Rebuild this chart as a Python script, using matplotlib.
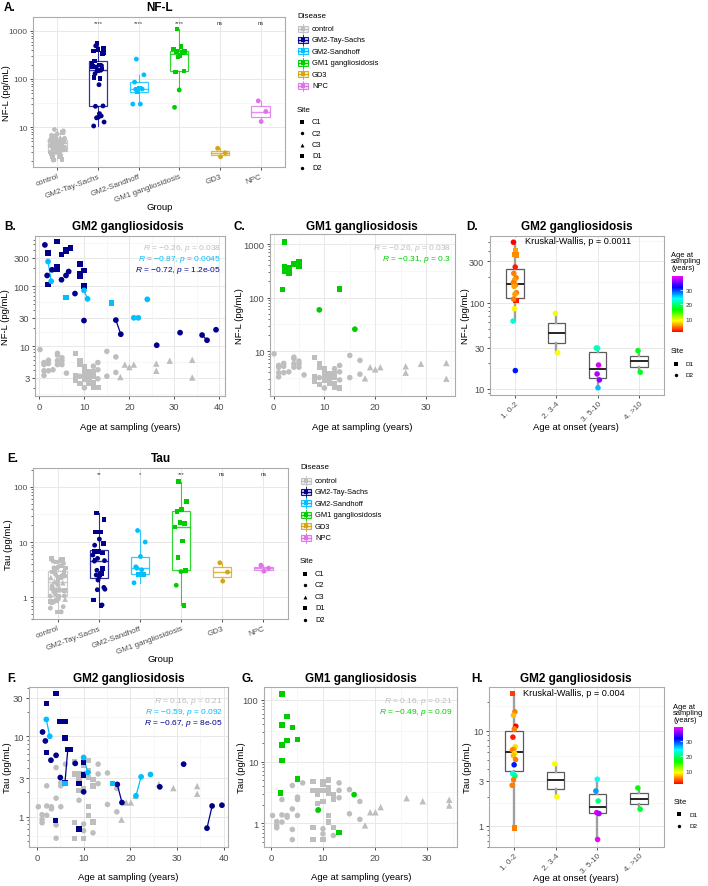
import numpy as np
import matplotlib
matplotlib.use('Agg')
import matplotlib.pyplot as plt
import matplotlib.ticker as mticker
import matplotlib.transforms as mtrans
from matplotlib.colors import LinearSegmentedColormap, Normalize, hsv_to_rgb
from matplotlib.patches import Rectangle
from matplotlib.cm import ScalarMappable

plt.rcParams['font.family'] = ['Liberation Sans', 'DejaVu Sans']
plt.rcParams['mathtext.fontset'] = 'custom'
plt.rcParams['mathtext.rm'] = 'Liberation Sans'
plt.rcParams['mathtext.it'] = 'Liberation Sans:italic'

# ======================= DATA =======================
groups = ['control', 'GM2-Tay-Sachs', 'GM2-Sandhoff', 'GM1 gangliosidosis', 'GD3', 'NPC']
group_colors = ['#BEBEBE', '#00008B', '#00BFFF', '#00CD00', '#D4A514', '#E070EE']
site_codes = ['C1', 'C2', 'C3', 'D1', 'D2']
nfl_sig = ['', '****', '****', '****', 'ns', 'ns']
tau_sig = ['', '**', '*', '***', 'ns', 'ns']
onset_labels = ['1. 0-2', '2. 3-4', '3. 5-10', '4. >10']

# controls: NF-L vs age
ctrl_nfl_age = [0.1, 1, 1, 1, 1, 2, 2, 2, 3, 4, 4, 4, 4, 5, 5, 5, 6,
                8, 8, 8, 8, 9, 9, 9, 9, 10, 10, 10, 10, 10, 11, 11, 11, 11,
                12, 12, 12, 12, 12, 13, 13, 13, 13, 15, 15, 17, 17,
                18, 19, 20, 21, 26, 26, 29, 34, 34]
ctrl_nfl = [8.9, 5.4, 5.0, 3.95, 3.3, 5.9, 5.2, 3.95, 4.1, 7.7, 7.2, 5.8, 5.0, 6.5, 5.8, 5.0, 3.6,
            7.7, 3.3, 3.0, 2.7, 5.9, 5.0, 3.2, 2.4, 4.7, 3.9, 3.4, 2.85, 2.05, 3.8, 3.2, 2.75, 2.45,
            4.7, 3.8, 3.2, 2.5, 2.1, 5.4, 4.1, 2.9, 2.05, 8.3, 3.2, 6.7, 3.7,
            3.1, 5.0, 4.55, 5.0, 5.2, 3.95, 5.8, 6.0, 3.05]
ctrl_nfl_site = ['C2', 'C2', 'C2', 'C2', 'C2', 'C2', 'C2', 'C2', 'C2', 'C2', 'C2', 'C2', 'C2', 'C2', 'C2', 'C2', 'C2',
                 'C1', 'C1', 'C1', 'C1', 'C1', 'C1', 'C2', 'C1', 'C1', 'C1', 'C1', 'C1', 'C2', 'C1', 'C1', 'C1', 'C1',
                 'C2', 'C1', 'C1', 'C1', 'C1', 'C2', 'C2', 'C2', 'C1', 'C2', 'C2', 'C2', 'C2',
                 'C3', 'C3', 'C3', 'C3', 'C3', 'C3', 'C3', 'C3', 'C3']

# controls: Tau vs age
ctrl_tau_age = [0.3, 1.1, 1.1, 1.1, 2.1, 2.1, 2.1, 3.1, 3.1, 4.1, 4.1, 4.1, 4.1, 5.1, 5.1, 5.1, 6.1,
                8.1, 8.1, 8.1, 8.1, 9, 9, 9, 9, 10, 10, 10, 10, 10, 10, 10,
                11.1, 11.1, 11.1, 11.1, 11.1, 12, 12, 12, 12, 13.1, 13.1, 13.1, 15.1, 15.1, 17.1, 17.1,
                18.1, 19.1, 20.1, 21.1, 26.1, 29.2, 34.3, 34.3]
ctrl_tau = [1.33, 1.06, 0.92, 0.84, 2.42, 1.36, 1.04, 1.33, 1.25, 4.08, 1.7, 0.79, 0.54, 2.64, 2.42, 1.33, 4.5,
            4.8, 3.4, 0.84, 0.54, 3.4, 2.88, 2.1, 1.6, 4.8, 4.3, 3.4, 2.25, 0.81, 0.67, 0.54,
            5.0, 3.7, 3.05, 1.33, 1.04, 2.88, 2.4, 0.86, 0.63, 4.5, 3.4, 2.58, 3.5, 1.42, 2.25, 1.15,
            0.92, 1.5, 1.5, 1.82, 2.54, 2.27, 2.4, 1.93]
ctrl_tau_site = ['C2', 'C2', 'C2', 'C2', 'C2', 'C2', 'C2', 'C2', 'C2', 'C2', 'C2', 'C2', 'C2', 'C2', 'C2', 'C2', 'C2',
                 'C1', 'C1', 'C1', 'C1', 'C1', 'C1', 'C1', 'C2', 'C1', 'C1', 'C1', 'C1', 'C2', 'C2', 'C1',
                 'C1', 'C1', 'C1', 'C1', 'C1', 'C1', 'C1', 'C1', 'C2', 'C2', 'C2', 'C2', 'C2', 'C2', 'C2', 'C2',
                 'C3', 'C3', 'C3', 'C3', 'C3', 'C3', 'C3', 'C3']

# GM2 Tay-Sachs, NF-L
ts_nfl_age = [1.2, 1.9, 1.7, 1.9, 2.8, 3.9, 3.9, 3.9, 4.9, 4.9, 5.9, 5.9, 5.9, 6.5, 6.9, 7.9,
              9.0, 9.0, 9.0, 9.9, 9.9, 9.9, 17.0, 18.1, 26.1, 31.3, 36.2, 37.3, 39.3]
ts_nfl = [490, 357, 152, 107, 189, 555, 215, 196, 129, 339, 406, 380, 152, 177, 437, 76,
          237, 162, 147, 184, 101, 27, 27.5, 16, 10.5, 17, 15.5, 12.7, 19]
ts_nfl_site = ['D2', 'D1', 'D2', 'D1', 'D2', 'D1', 'D1', 'D1', 'D2', 'D1', 'D1', 'D1', 'D2', 'D2', 'D1', 'D2',
               'D1', 'D1', 'D1', 'D1', 'D1', 'D2', 'D2', 'D2', 'D2', 'D2', 'D2', 'D2', 'D2']
ts_nfl_pid = [0, 0, 0, 0, 0, 0, 0, 0, 0, 0, 0, 0, 0, 0, 0, 0,
              0, 0, 0, 0, 0, 0, 1, 1, 0, 0, 2, 2, 0]

# GM2 Sandhoff, NF-L
sh_nfl_age = [1.9, 2.6, 5.9, 9.9, 10.7, 16.0, 21.0, 22.0, 24.0]
sh_nfl = [259, 122, 65, 86, 62, 53, 30, 30, 61]
sh_nfl_site = ['D2', 'D2', 'D1', 'D2', 'D2', 'D1', 'D2', 'D2', 'D2']
sh_nfl_pid = [3, 3, 0, 4, 4, 0, 5, 5, 0]

# GM2 Tay-Sachs, Tau
ts_tau_age = [4.1, 2.0, 1.2, 1.8, 2.0, 3.0, 4.1, 4.9, 6.0, 6.0, 6.6, 7.1, 6.0, 5.0, 8.2, 9.0,
              10.0, 10.0, 10.0, 4.0, 9.0, 17.2, 18.2, 26.3, 31.4, 36.4, 37.5, 39.6]
ts_tau = [33.8, 25.4, 11.3, 8.75, 6.28, 5.04, 5.8, 15.3, 15.3, 9.5, 6.8, 6.8, 2.66, 3.07, 4.6, 2.59,
          4.7, 3.28, 2.04, 0.89, 0.70, 2.52, 1.5, 2.35, 4.5, 0.72, 1.36, 1.39]
ts_tau_site = ['D1', 'D1', 'D2', 'D2', 'D1', 'D2', 'D2', 'D1', 'D1', 'D1', 'D1', 'D1', 'D1', 'D2', 'D2', 'D1',
               'D1', 'D1', 'D2', 'D1', 'D1', 'D2', 'D2', 'D2', 'D2', 'D2', 'D2', 'D2']
ts_tau_pid = [0, 0, 0, 0, 0, 0, 0, 0, 0, 0, 6, 0, 6, 0, 0, 0,
              0, 0, 0, 0, 0, 1, 1, 0, 0, 2, 2, 0]

# GM2 Sandhoff, Tau
sh_tau_age = [2.0, 2.75, 10.0, 10.9, 6.0, 16.2, 21.2, 22.3, 24.3]
sh_tau = [16.2, 10.0, 5.45, 3.55, 2.59, 2.59, 1.82, 3.13, 3.35]
sh_tau_site = ['D2', 'D2', 'D2', 'D2', 'D1', 'D1', 'D2', 'D2', 'D2']
sh_tau_pid = [3, 3, 4, 4, 0, 0, 5, 5, 0]

# GM1 gangliosidosis
gm1_nfl_age = [2.1, 2.1, 2.1, 1.8, 3.0, 3.0, 4.0, 5.0, 5.0, 13.0, 9.0, 16.0]
gm1_nfl = [1100, 378, 305, 141, 357, 288, 424, 475, 378, 145, 59, 25.7]
gm1_nfl_site = ['D1', 'D1', 'D1', 'D1', 'D1', 'D1', 'D1', 'D1', 'D1', 'D1', 'D2', 'D2']
gm1_tau_age = [2.1, 3.1, 2.1, 4.1, 3.1, 5.1, 2.1, 2.1, 5.1, 1.8, 16.0, 9.1, 13.1]
gm1_tau = [125, 54, 39, 36, 21.9, 22.6, 18.6, 10.4, 5.2, 3.06, 2.9, 1.64, 0.71]
gm1_tau_site = ['D1', 'D1', 'D1', 'D1', 'D1', 'D1', 'D1', 'D1', 'D1', 'D1', 'D2', 'D2', 'D1']

# GD3 and NPC
gd3_nfl = [3.6, 2.9, 2.4]
gd3_tau = [4.2, 2.85, 1.95]
gd3_site = ['D2', 'D2', 'D2']
npc_nfl = [35, 21, 13]
npc_tau = [3.8, 3.35, 2.95]
npc_site = ['D2', 'D2', 'D2']

# GM2 by age at onset (panel D: NF-L)
d_group = [1, 1, 1, 1, 1, 1, 1, 1, 1, 1, 1, 1, 1, 1, 1, 1, 1, 1, 2, 2, 3, 3, 3, 3, 3, 3, 4, 4]
d_nfl = [500, 402, 361, 355, 258, 218, 194, 183, 170, 160, 154, 130, 125, 110, 106, 85, 61, 16.3,
         75, 26.2, 29.7, 29.7, 18.9, 14.9, 12.7, 10.3, 27.7, 15.6]
d_age = [1.2, 6, 5.5, 5.5, 2, 5, 5, 6, 5, 5, 6, 5, 6, 5, 2, 8.5, 23, 31,
         9, 9, 23, 22, 38, 37, 36, 26, 17, 17.5]
d_site = ['D2', 'D1', 'D1', 'D1', 'D2', 'D2', 'D2', 'D2', 'D2', 'D2', 'D2', 'D2', 'D2', 'D2', 'D1', 'D2', 'D2', 'D2',
          'D2', 'D2', 'D2', 'D2', 'D2', 'D2', 'D2', 'D2', 'D2', 'D2']

# GM2 by age at onset (panel H: Tau)
h_group = [1, 1, 1, 1, 1, 1, 1, 1, 1, 1, 1, 1, 1, 1, 1, 1, 1, 1, 2, 2, 3, 3, 3, 3, 3, 3, 4, 4]
h_tau = [24.7, 15.9, 14.6, 11.2, 10.5, 8.6, 6.8, 6.4, 6.3, 5.8, 5.5, 5.0, 4.4, 3.55, 3.36, 3.07, 2.68, 0.95,
         4.5, 2.02, 3.1, 2.33, 1.83, 1.38, 1.35, 0.72, 2.51, 1.5]
h_age = [3, 5, 7, 1.2, 5, 2, 8, 6, 5, 8, 7, 5, 31, 23, 20, 5, 5, 5,
         9, 9, 24, 27, 20, 38, 37, 39, 17, 18]
h_site = ['D1', 'D2', 'D2', 'D2', 'D2', 'D2', 'D2', 'D2', 'D2', 'D2', 'D2', 'D2', 'D2', 'D2', 'D2', 'D2', 'D2', 'D1',
          'D2', 'D2', 'D2', 'D2', 'D2', 'D2', 'D2', 'D2', 'D2', 'D2']

# correlation / test annotations
b_text = [(r'$\mathit{R}$ = −0.26, $\mathit{p}$ = 0.038', '#BEBEBE'),
          (r'$\mathit{R}$ = −0.87, $\mathit{p}$ = 0.0045', '#00BFFF'),
          (r'$\mathit{R}$ = −0.72, $\mathit{p}$ = 1.2e-05', '#00008B')]
c_text = [(r'$\mathit{R}$ = −0.26, $\mathit{p}$ = 0.038', '#BEBEBE'),
          (r'$\mathit{R}$ = −0.31, $\mathit{p}$ = 0.3', '#00CD00')]
f_text = [(r'$\mathit{R}$ = 0.16, $\mathit{p}$ = 0.21', '#BEBEBE'),
          (r'$\mathit{R}$ = −0.59, $\mathit{p}$ = 0.092', '#00BFFF'),
          (r'$\mathit{R}$ = −0.67, $\mathit{p}$ = 8e-05', '#00008B')]
g_text = [(r'$\mathit{R}$ = 0.16, $\mathit{p}$ = 0.21', '#BEBEBE'),
          (r'$\mathit{R}$ = −0.49, $\mathit{p}$ = 0.09', '#00CD00')]
d_kw = 'Kruskal-Wallis, p = 0.0011'
h_kw = 'Kruskal-Wallis, p = 0.004'

# ======================= FIGURE =======================
W, H = 708, 887
fig = plt.figure(figsize=(W / 100, H / 100), dpi=100)
fig.patch.set_facecolor('white')

MK = {'C1': 's', 'C2': 'o', 'C3': '^', 'D1': 's', 'D2': 'o'}
GRID_MAJ = '#E8E8E8'
GRID_MIN = '#F4F4F4'
TICKC = '#4D4D4D'

hues = np.linspace(0, 5 / 6, 256)
age_cmap = LinearSegmentedColormap.from_list(
    'rb', hsv_to_rgb(np.stack([hues, np.ones(256), np.ones(256)], axis=1)))
age_norm = Normalize(1.2, 39.3)


def add_ax(x0, y0, x1, y1):
    return fig.add_axes([x0 / W, 1 - y1 / H, (x1 - x0) / W, (y1 - y0) / H])


def jit(n, w, phase=0.31):
    return ((np.arange(n) * 0.6180339887 + phase) % 1.0 - 0.5) * 2 * w


def base_style(ax, tsize):
    ax.set_facecolor('white')
    for sp in ax.spines.values():
        sp.set_color('#ABABAB')
        sp.set_linewidth(0.8)
        sp.set_zorder(6)
    ax.tick_params(which='major', length=2.5, width=0.6, color='#333333',
                   labelsize=tsize, labelcolor=TICKC, pad=1.5)
    ax.tick_params(axis='y', which='minor', length=1.6, width=0.5, color='#333333')
    ax.tick_params(axis='x', which='minor', bottom=False)


def log_y(ax, ticks, lim):
    ax.set_yscale('log')
    ax.set_ylim(*lim)
    ax.set_yticks(ticks)
    ax.set_yticklabels(['%g' % t for t in ticks])
    ax.yaxis.set_minor_locator(mticker.LogLocator(base=10, subs=np.arange(2, 10), numticks=40))
    ax.yaxis.set_minor_formatter(mticker.NullFormatter())
    lt = np.log10(ticks)
    mids = np.concatenate([[lt[0] - (lt[1] - lt[0]) / 2], (lt[:-1] + lt[1:]) / 2,
                           [lt[-1] + (lt[-1] - lt[-2]) / 2]])
    for m in mids:
        ax.axhline(10 ** m, color=GRID_MIN, lw=0.5, zorder=0)
    for t in ticks:
        ax.axhline(t, color=GRID_MAJ, lw=0.7, zorder=0)


def lin_x(ax, ticks, lim):
    ax.set_xlim(*lim)
    ax.set_xticks(ticks)
    ax.set_xticklabels(['%g' % t for t in ticks])
    st = ticks[1] - ticks[0]
    for t in list(ticks) + [ticks[-1] + st]:
        ax.axvline(t - st / 2, color=GRID_MIN, lw=0.5, zorder=0)
    for t in ticks:
        ax.axvline(t, color=GRID_MAJ, lw=0.7, zorder=0)


def cat_x(ax, labels, rot, tsize):
    n = len(labels)
    ax.set_xlim(0.4, n + 0.6)
    ax.set_xticks(np.arange(1, n + 1))
    ax.set_xticklabels(labels, rotation=rot, ha='right', rotation_mode='anchor', fontsize=tsize)
    for i in range(1, n + 1):
        ax.axvline(i, color=GRID_MAJ, lw=0.7, zorder=0)


def bstats(vals):
    lv = np.log10(np.asarray(vals, float))
    q1, med, q3 = np.percentile(lv, [25, 50, 75])
    iqr = q3 - q1
    lo = lv[lv >= q1 - 1.5 * iqr].min()
    hi = lv[lv <= q3 + 1.5 * iqr].max()
    return {'med': 10 ** med, 'q1': 10 ** q1, 'q3': 10 ** q3,
            'whislo': 10 ** lo, 'whishi': 10 ** hi, 'fliers': []}


def draw_box(ax, vals, pos, width, edge, med, whisk, lw=0.9, mlw=1.1, wlw=0.9, alpha=1.0):
    ax.bxp([bstats(vals)], positions=[pos], widths=width, showfliers=False, showcaps=False,
           patch_artist=True, manage_ticks=False, zorder=2,
           boxprops=dict(facecolor='white', edgecolor=edge, linewidth=lw, alpha=alpha),
           medianprops=dict(color=med, linewidth=mlw, alpha=alpha, solid_capstyle='butt'),
           whiskerprops=dict(color=whisk, linewidth=wlw, alpha=alpha))


def pts(ax, x, y, site, color, s, z=3):
    x = np.asarray(x, float)
    y = np.asarray(y, float)
    site = np.asarray(site)
    if isinstance(color, str):
        cols = np.array([matplotlib.colors.to_rgba(color)] * len(x))
    else:
        cols = np.asarray(color)
    for code, m in MK.items():
        sel = site == code
        if not sel.any():
            continue
        sz = s * (1.35 if m == '^' else (0.9 if m == 's' else 1.0))
        ax.scatter(x[sel], y[sel], marker=m, s=sz, c=cols[sel], linewidths=0, zorder=z)


def pair_lines(ax, age, val, pid, color):
    age = np.asarray(age, float)
    val = np.asarray(val, float)
    pid = np.asarray(pid)
    for p in np.unique(pid[pid > 0]):
        sel = pid == p
        o = np.argsort(age[sel])
        ax.plot(age[sel][o], val[sel][o], color=color, lw=0.9, zorder=2.5)


def group_panel(ax, vals_list, site_list, sig, yticks, ylim):
    base_style(ax, 6.0)
    log_y(ax, yticks, ylim)
    cat_x(ax, groups, 20, 5.8)
    tr = mtrans.blended_transform_factory(ax.transData, ax.transAxes)
    for i, (v, s) in enumerate(zip(vals_list, site_list)):
        c = group_colors[i]
        draw_box(ax, v, i + 1, 0.45, c, c, c, lw=0.9, mlw=1.0, wlw=0.8, alpha=0.8)
        pts(ax, i + 1 + jit(len(v), 0.19 if i == 0 else 0.15), v, s, c, 12)
        if sig[i]:
            ax.text(i + 1, 0.965, sig[i], transform=tr, ha='center', va='center',
                    fontsize=4.2, color='#333333')


def onset_panel(ax, grp, vals, ages, sites, yticks, ylim):
    base_style(ax, 6.6)
    log_y(ax, yticks, ylim)
    cat_x(ax, onset_labels, 45, 5.8)
    ax.tick_params(axis='x', pad=1.0)
    grp = np.asarray(grp)
    vals = np.asarray(vals, float)
    for g in range(1, 5):
        draw_box(ax, vals[grp == g], g, 0.42, '#5A5A5A', '#262626', '#A0A0A0',
                 lw=0.9, mlw=1.4, wlw=1.7)
    xs = grp + jit(len(vals), 0.045, 0.12)
    pts(ax, xs, vals, sites, age_cmap(age_norm(np.asarray(ages, float))), 16)


# ---------- Panel A ----------
axA = add_ax(33, 18, 285, 168)
group_panel(axA, [ctrl_nfl, ts_nfl, sh_nfl, gm1_nfl, gd3_nfl, npc_nfl],
            [ctrl_nfl_site, ts_nfl_site, sh_nfl_site, gm1_nfl_site, gd3_site, npc_site],
            nfl_sig, [10, 100, 1000], (1.47, 1950))

# ---------- Panel B ----------
axB = add_ax(35, 237, 225, 397)
base_style(axB, 6.8)
log_y(axB, [3, 10, 30, 100, 300], (1.5, 690))
lin_x(axB, [0, 10, 20, 30, 40], (-1.0, 41.3))
pts(axB, ctrl_nfl_age, ctrl_nfl, ctrl_nfl_site, '#BEBEBE', 16, z=2)
pair_lines(axB, ts_nfl_age, ts_nfl, ts_nfl_pid, '#00008B')
pair_lines(axB, sh_nfl_age, sh_nfl, sh_nfl_pid, '#00BFFF')
pts(axB, ts_nfl_age, ts_nfl, ts_nfl_site, '#00008B', 17)
pts(axB, sh_nfl_age, sh_nfl, sh_nfl_site, '#00BFFF', 17)

# ---------- Panel C ----------
axC = add_ax(270, 235, 455, 397)
base_style(axC, 6.8)
log_y(axC, [10, 100, 1000], (1.45, 1540))
lin_x(axC, [0, 10, 20, 30], (-0.7, 35.7))
pts(axC, ctrl_nfl_age, ctrl_nfl, ctrl_nfl_site, '#BEBEBE', 16, z=2)
pts(axC, gm1_nfl_age, gm1_nfl, gm1_nfl_site, '#00CD00', 17)

# ---------- Panel D ----------
axD = add_ax(490, 237, 664, 396)
onset_panel(axD, d_group, d_nfl, d_age, d_site, [10, 30, 100, 300], (8.5, 590))

# ---------- Panel E ----------
axE = add_ax(33, 469, 288, 620)
group_panel(axE, [ctrl_tau, ts_tau, sh_tau, gm1_tau, gd3_tau, npc_tau],
            [ctrl_tau_site, ts_tau_site, sh_tau_site, gm1_tau_site, gd3_site, npc_site],
            tau_sig, [1, 10, 100], (0.4, 221))

# ---------- Panel F ----------
axF = add_ax(29, 688, 228, 848)
base_style(axF, 6.8)
log_y(axF, [1, 3, 10, 30], (0.42, 41))
lin_x(axF, [0, 10, 20, 30, 40], (-1.7, 40.9))
pts(axF, ctrl_tau_age, ctrl_tau, ctrl_tau_site, '#BEBEBE', 16, z=2)
pair_lines(axF, ts_tau_age, ts_tau, ts_tau_pid, '#00008B')
pair_lines(axF, sh_tau_age, sh_tau, sh_tau_pid, '#00BFFF')
pts(axF, ts_tau_age, ts_tau, ts_tau_site, '#00008B', 17)
pts(axF, sh_tau_age, sh_tau, sh_tau_site, '#00BFFF', 17)

# ---------- Panel G ----------
axG = add_ax(264, 688, 457, 848)
base_style(axG, 6.8)
log_y(axG, [1, 10, 100], (0.41, 162))
lin_x(axG, [0, 10, 20, 30], (-1.35, 35.8))
pts(axG, ctrl_tau_age, ctrl_tau, ctrl_tau_site, '#BEBEBE', 16, z=2)
pts(axG, gm1_tau_age, gm1_tau, gm1_tau_site, '#00CD00', 17)

# ---------- Panel H ----------
axH = add_ax(489, 688, 664, 848)
onset_panel(axH, h_group, h_tau, h_age, h_site, [1, 3, 10], (0.6, 29))

# ---------- colorbars ----------
for (x0, y0, x1, y1) in [(672, 277, 683, 333), (674, 728, 683, 785)]:
    cax = add_ax(x0, y0, x1, y1)
    cb = fig.colorbar(ScalarMappable(norm=age_norm, cmap=age_cmap), cax=cax, ticks=[10, 20, 30])
    cb.outline.set_visible(False)
    cax.tick_params(labelsize=4.6, length=2, width=0.5, color='white', direction='in',
                    labelcolor='#333333', pad=2)

# ======================= OVERLAY (texts, legends) =======================
ov = fig.add_axes([0, 0, 1, 1], zorder=20)
ov.set_xlim(0, W)
ov.set_ylim(H, 0)
ov.axis('off')
ov.patch.set_visible(False)


def T(x, y, s, **kw):
    kw.setdefault('va', 'center')
    kw.setdefault('ha', 'center')
    ov.text(x, y, s, **kw)


# panel tags and titles
for tag, x, y in [('A.', 4, 8), ('B.', 4, 227), ('C.', 234, 227), ('D.', 466, 227),
                  ('E.', 7, 459), ('F.', 7, 679), ('G.', 241, 679), ('H.', 471, 679)]:
    T(x, y, tag, ha='left', fontsize=8.5, fontweight='bold')
for title, x, y in [('NF-L', 160, 8), ('GM2 gangliosidosis', 128, 227),
                    ('GM1 gangliosidosis', 362, 227), ('GM2 gangliosidosis', 577, 227),
                    ('Tau', 161, 459), ('GM2 gangliosidosis', 129, 679),
                    ('GM1 gangliosidosis', 361, 679), ('GM2 gangliosidosis', 576, 679)]:
    T(x, y, title, fontsize=8.5, fontweight='bold')

# axis titles
AX = 6.8
T(160, 208, 'Group', fontsize=AX)
T(161, 660, 'Group', fontsize=AX)
for x in (130, 362):
    T(x, 428, 'Age at sampling (years)', fontsize=AX)
T(576, 428, 'Age at onset (years)', fontsize=AX)
for x in (128, 361):
    T(x, 878, 'Age at sampling (years)', fontsize=AX)
T(576, 879, 'Age at onset (years)', fontsize=AX)
for x, y, s in [(7, 93, 'NF-L (pg/mL)'), (6, 317, 'NF-L (pg/mL)'), (239, 316, 'NF-L (pg/mL)'),
                (465, 316, 'NF-L (pg/mL)'), (9, 545, 'Tau (pg/mL)'), (8, 768, 'Tau (pg/mL)'),
                (241, 768, 'Tau (pg/mL)'), (467, 768, 'Tau (pg/mL)')]:
    T(x, y, s, rotation=90, fontsize=AX)

# correlation annotations
for texts, xr, y0 in [(b_text, 221, 249), (c_text, 451, 249), (f_text, 223, 702), (g_text, 453, 702)]:
    for i, (s, c) in enumerate(texts):
        T(xr, y0 + i * 11, s, ha='right', fontsize=6.0, color=c)
T(578, 242, d_kw, fontsize=6.6)
T(574, 694, h_kw, fontsize=6.6)


def disease_legend(x0, ytitle, step):
    T(x0, ytitle, 'Disease', ha='left', fontsize=5.8)
    for i, (nm, c) in enumerate(zip(groups, group_colors)):
        y = ytitle + 13.5 + i * step
        kx = x0 + 6
        ov.plot([kx, kx], [y - 5, y + 5], color=c, lw=0.7, alpha=0.85, zorder=2)
        ov.add_patch(Rectangle((kx - 5, y - 3), 10, 6, facecolor=c, edgecolor='none',
                               alpha=0.22, zorder=3))
        ov.add_patch(Rectangle((kx - 5, y - 3), 10, 6, facecolor='none', edgecolor=c,
                               lw=0.8, alpha=0.9, zorder=3))
        ov.plot([kx - 5, kx + 5], [y, y], color=c, lw=0.8, zorder=4)
        ov.scatter([kx], [y], s=6, marker='s', color=c, linewidths=0, zorder=5)
        T(x0 + 15, y, nm, ha='left', fontsize=5.4)


def site_legend(x0, ytitle, step, codes, tsize, lsize, s):
    T(x0, ytitle, 'Site', ha='left', fontsize=tsize)
    for i, code in enumerate(codes):
        y = ytitle + 12.5 + i * step
        ov.scatter([x0 + 5], [y], marker=MK[code], s=s * (1.3 if MK[code] == '^' else 1),
                   color='black', linewidths=0)
        T(x0 + 15, y, code, ha='left', fontsize=lsize)


disease_legend(297, 16, 11.4)
site_legend(297, 110, 11.5, site_codes, 5.8, 5.4, 6)
disease_legend(300, 468, 11.4)
site_legend(300, 562, 11.5, site_codes, 5.8, 5.4, 6)

# colour bar titles and site keys for D and H
T(671, 262, 'Age at\nsampling\n(years)', ha='left', fontsize=5.4, linespacing=0.95)
T(673, 714, 'Age at\nsampling\n(years)', ha='left', fontsize=5.4, linespacing=0.95)
site_legend(671, 352, 11.5, ['D1', 'D2'], 5.5, 4.6, 6)
site_legend(674, 803, 11.5, ['D1', 'D2'], 5.5, 4.6, 6)

fig.savefig('out.png', dpi=100, facecolor='white')
